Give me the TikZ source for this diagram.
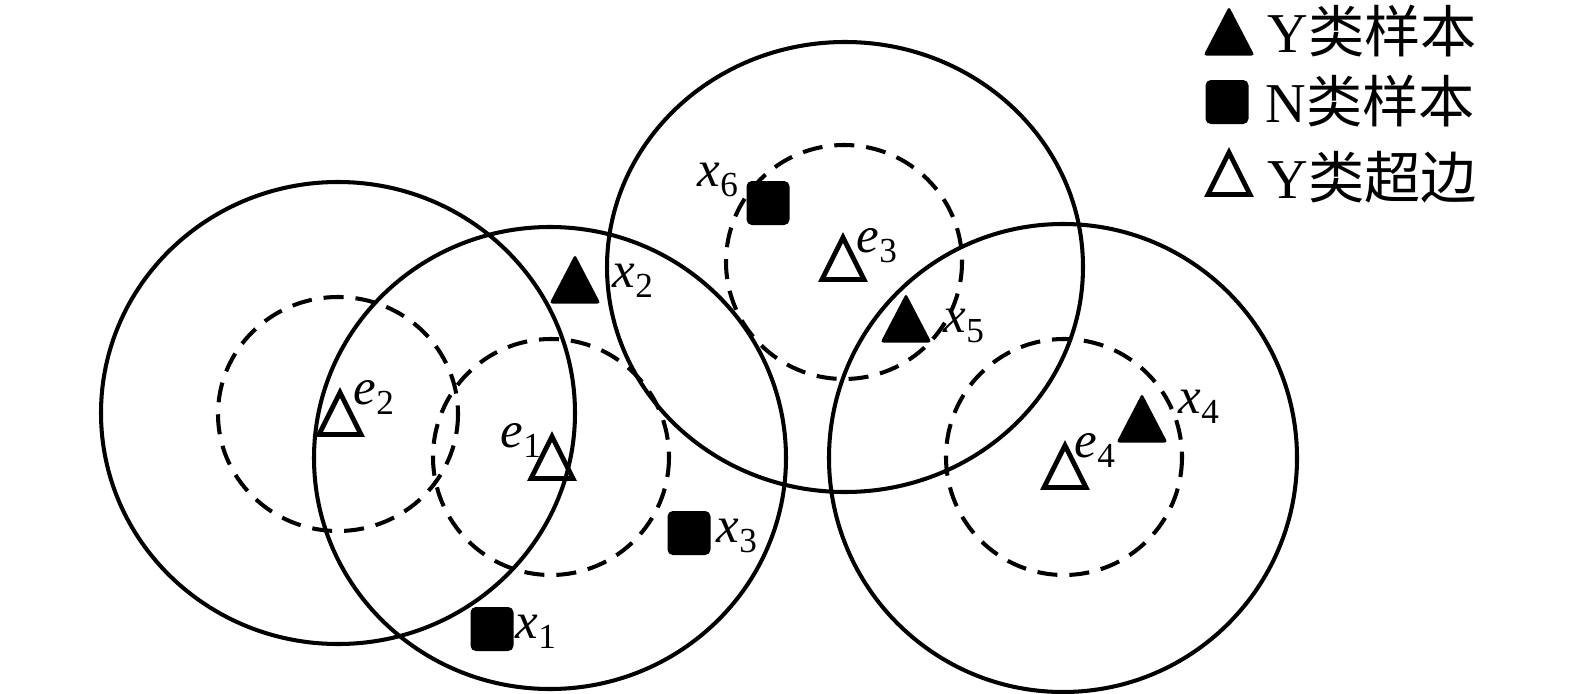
\documentclass[tikz,border=0pt]{standalone}
\usepackage{fontspec}
\setmainfont{Liberation Serif}
\newfontfamily\cjk{Noto Sans CJK SC}
\tikzset{
  bigc/.style={draw=black, line width=1.15pt},
  dashc/.style={draw=black, line width=1.15pt, dash pattern=on 5.7pt off 3.4pt},
  lab/.style={anchor=base west, inner sep=0pt, font=\fontsize{14.5}{17}\selectfont},
  legtxt/.style={anchor=base west, inner sep=0pt, font=\fontsize{16}{19}\selectfont},
  ftri/.pic={\fill[black, line join=round, rounded corners=0.8pt] (-25.5,24.5) -- (25.5,24.5) -- (0,-24.5) -- cycle;},
  otri/.pic={\draw[black, line width=1.35pt, line join=miter] (-21,21.5) -- (21,21.5) -- (0,-20.5) -- cycle;},
  sqp/.pic={\fill[black, rounded corners=1.5pt] (-21.5,-22) rectangle (21.5,22);}
}
\newcommand\sub[2]{\textit{#1}\raisebox{-3pt}{\fontsize{10}{11}\selectfont #2}}
\begin{document}
\begin{tikzpicture}[x=0.01cm,y=-0.01cm]
\useasboundingbox (0,0) rectangle (1575,694);
% big circles
\draw[bigc] (338,413) ellipse [x radius=237, y radius=231];
\draw[bigc] (550,458) ellipse [x radius=236, y radius=231];
\draw[bigc] (845,267) ellipse [x radius=238, y radius=225];
\draw[bigc] (1063,458) ellipse [x radius=234, y radius=234];
% dashed circles
\draw[dashc] (338,414) ellipse [x radius=120, y radius=117];
\draw[dashc] (551,457) ellipse [x radius=118, y radius=118];
\draw[dashc] (844,262) ellipse [x radius=118, y radius=117];
\draw[dashc] (1064,457) ellipse [x radius=118, y radius=118];
% marker positions
\coordinate (e2) at (340,413);
\coordinate (e1) at (552,457);
\coordinate (e3) at (843,258);
\coordinate (e4) at (1065,466);
\coordinate (x2) at (575,279);
\coordinate (x5) at (906,318);
\coordinate (x4) at (1142,418);
\coordinate (x6) at (768,203);
\coordinate (x3) at (689,533);
\coordinate (x1) at (492,629);
% hyperedge triangles
\pic at (e2) {otri};
\pic at (e1) {otri};
\pic at (e3) {otri};
\pic at (e4) {otri};
% Y samples
\pic at (x2) {ftri};
\pic at (x5) {ftri};
\pic at (x4) {ftri};
% N samples
\pic at (x6) {sqp};
\pic at (x3) {sqp};
\pic at (x1) {sqp};
% labels
\node[lab] (le2) at (353,404) {\sub{e}{2}};
\node[lab] (le1) at (500,447) {\sub{e}{1}};
\node[lab] (le3) at (856,252) {\sub{e}{3}};
\node[lab] (le4) at (1074,457) {\sub{e}{4}};
\node[lab] (lx2) at (612,287) {\sub{x}{2}};
\node[lab] (lx5) at (943,332) {\sub{x}{5}};
\node[lab] (lx4) at (1178,413) {\sub{x}{4}};
\node[lab] (lx6) at (697,186) {\sub{x}{6}};
\node[lab] (lx3) at (716,542) {\sub{x}{3}};
\node[lab] (lx1) at (515,638) {\sub{x}{1}};
% legend
\coordinate (k1) at (1229,31);
\coordinate (k2) at (1227,102);
\coordinate (k3) at (1229,173);
\pic at (k1) {ftri};
\pic at (k2) {sqp};
\pic at (k3) {otri};
\node[legtxt] (t1) at (1267,52) {Y{\cjk 类样本}};
\node[legtxt] (t2) at (1265,123) {N{\cjk 类样本}};
\node[legtxt] (t3) at (1267,198) {Y{\cjk 类超边}};
\end{tikzpicture}
\end{document}
